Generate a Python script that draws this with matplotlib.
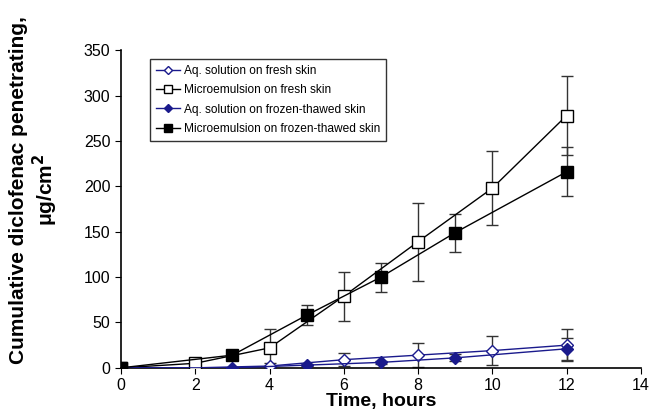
import matplotlib
matplotlib.use("Agg")
import matplotlib.pyplot as plt

plt.rcParams["font.family"] = ["Liberation Sans", "DejaVu Sans"]

# fresh skin: sampled every 2 h
t_fresh = [0, 2, 4, 6, 8, 10, 12]
micro_fresh = [0, 5, 22, 79, 139, 198, 278]
micro_fresh_err = [0, 2, 21, 27, 43, 41, 44]
aq_fresh = [0, 0, 2, 9, 14, 19, 25]
aq_fresh_err = [0, 1, 3, 7, 13, 16, 18]

# frozen-thawed skin
t_frozen = [0, 3, 5, 7, 9, 12]
micro_frozen = [0, 14, 58, 100, 149, 216]
micro_frozen_err = [0, 2, 11, 16, 21, 27]
aq_frozen = [0, 0, 3, 6, 11, 21]
aq_frozen_err = [0, 0, 1, 2, 4, 12]

navy = "#1a1a8c"

fig = plt.figure(figsize=(6.54, 4.18), dpi=100)
ax = fig.add_axes([0.185, 0.12, 0.795, 0.76])

series = [
    (t_fresh, aq_fresh, aq_fresh_err, navy, "D", 6, "white", "Aq. solution on fresh skin"),
    (t_fresh, micro_fresh, micro_fresh_err, "black", "s", 8, "white", "Microemulsion on fresh skin"),
    (t_frozen, aq_frozen, aq_frozen_err, navy, "D", 6, navy, "Aq. solution on frozen-thawed skin"),
    (t_frozen, micro_frozen, micro_frozen_err, "black", "s", 8, "black", "Microemulsion on frozen-thawed skin"),
]
for i, (t, y, e, c, m, ms, fc, lab) in enumerate(series):
    ax.errorbar(t, y, yerr=e, fmt="none", capsize=4, elinewidth=1, capthick=1,
                ecolor="#333333", zorder=2)
    ax.plot(t, y, color=c, lw=1, marker=m, ms=ms, mfc=fc, mec=c, mew=1,
            label=lab, zorder=3 + i // 2)

ax.set_xlim(0, 14)
ax.set_ylim(0, 350)
ax.set_xticks(range(0, 15, 2))
ax.set_yticks(range(0, 351, 50))
ax.spines["top"].set_visible(False)
ax.spines["right"].set_visible(False)
ax.spines["left"].set_linewidth(1.2)
ax.spines["bottom"].set_linewidth(1.2)
ax.tick_params(direction="out", length=4, labelsize=11.5)
ax.set_xlabel("Time, hours", fontsize=14, fontweight="bold", labelpad=0)
ax.set_ylabel("Cumulative diclofenac penetrating,\nμg/cm$^\\mathbf{2}$", fontsize=15,
              fontweight="bold", linespacing=1.15)
ax.yaxis.set_label_coords(-0.117, 0.56)

leg = ax.legend(loc="upper left", bbox_to_anchor=(0.045, 0.99), fontsize=8.6, frameon=True,
                fancybox=False, edgecolor="black", handlelength=2.0, labelspacing=0.6,
                borderpad=0.5, handletextpad=0.3, markerscale=0.7)
leg.get_frame().set_linewidth(1)

fig.savefig("out.png", dpi=100)
